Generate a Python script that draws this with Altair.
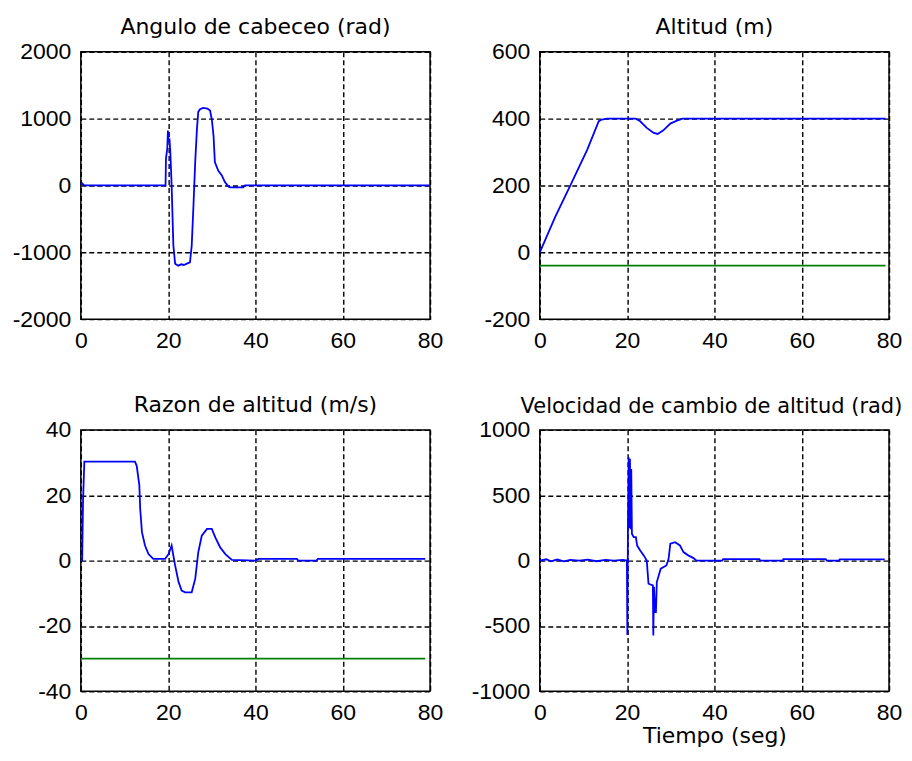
import altair as alt
import pandas as pd

# ---------------- data ----------------
# Panel 1: Angulo de cabeceo (rad)
t_pitch = [0, 0.3, 0.8, 19.4, 19.5, 19.8, 19.95, 20.1, 20.3, 20.5, 20.8, 21.2, 21.6, 22.3, 23.0,
           23.6, 24.3, 25.0, 25.4, 25.8, 26.2, 26.6, 26.9, 27.3, 28.0, 29.0, 29.6, 30.0, 30.4,
           30.7, 31.5, 32.3, 33.0, 33.8, 34.2, 37.2, 37.6, 80]
pitch = [0, 30, 0, 0, 400, 550, 820, 650, 700, 500, 0, -900, -1170, -1200, -1180,
         -1190, -1170, -1150, -900, -300, 350, 850, 1100, 1140, 1160, 1150, 1120, 990, 740,
         350, 220, 150, 50, -15, -30, -30, 0, 0]

# Panel 2: Altitud (m)
t_alt = [0, 3.5, 7.0, 10.9, 13.5, 14.2, 15.4, 21.9, 23.0, 24.5, 26.1, 27.0, 28.3, 29.9,
         31.4, 32.7, 79.2]
alt_m = [0, 105, 200, 308, 392, 397, 400, 400, 392, 372, 357, 354, 365, 385, 394, 400, 400]
t_alt_ref = [0, 79.2]
alt_ref = [-40, -40]

# Panel 3: Razon de altitud (m/s)
t_rate = [0, 0.3, 0.5, 0.8, 12.4, 12.8, 13.4, 13.6, 14.0, 14.7, 15.5, 16.6, 19.3, 20.1,
          20.8, 21.2, 21.6, 22.4, 23.1, 23.9, 25.4, 26.2, 26.9, 27.7, 28.9, 30.0, 30.8,
          31.9, 33.1, 34.6, 40.0, 40.7, 49.5, 49.8, 54.0, 54.3, 78.9]
rate = [0, 0, 18, 30.3, 30.3, 29, 23, 15.8, 8.7, 4.6, 2.0, 0.5, 0.5, 2.0,
        4.6, 1.5, -1.5, -6.6, -9.2, -9.7, -9.7, -5.6, 2.5, 7.6, 9.7, 9.7, 7.1,
        4.1, 2.0, 0.2, 0, 0.5, 0.5, 0, 0, 0.5, 0.5]
t_rate_ref = [0, 78.9]
rate_ref = [-30, -30]

# Panel 4: Velocidad de cambio de altitud (rad)
t_vel = [0, 1.5, 2.5, 4, 5.5, 7, 9, 11, 13, 15, 17, 19, 19.95, 20.05, 20.2, 20.35, 20.5,
         20.65, 20.8, 20.95, 21.1, 21.5, 22.0, 22.3, 23.0, 23.8, 24.5, 24.9, 25.9, 26.0,
         26.15, 26.4, 26.6, 26.8, 27.7, 29.0, 29.5, 29.9, 31.0, 32.1, 32.9, 34.0, 35.2,
         35.9, 41.8, 42.0, 50.3, 50.5, 55.6, 55.8, 65.5, 65.7, 68.5, 68.7, 79]
vel = [0, 10, -5, 8, -6, 5, 0, 8, -5, 6, 0, 5, 0, -570, 300, 790, 250,
       780, 240, 700, 205, 180, 180, 115, 78, 40, 0, -177, -190, -573,
       -200, -394, -394, -164, -62, -37, 14, 129, 141, 116, 65, 40, 19,
       0, 0, 12, 12, 0, 0, 12, 12, 0, 0, 10, 10]

titles = ["Angulo de cabeceo (rad)", "Altitud (m)", "Razon de altitud (m/s)",
          "Velocidad de cambio de altitud (rad)"]
x_ticks = [0, 20, 40, 60, 80]
y_ticks_pitch = [-2000, -1000, 0, 1000, 2000]
y_ticks_alt = [-200, 0, 200, 400, 600]
y_ticks_rate = [-40, -20, 0, 20, 40]
y_ticks_vel = [-1000, -500, 0, 500, 1000]
x_title = "Tiempo (seg)"

TICK_FONT = "Liberation Sans"
TITLE_FONT = "DejaVu Sans"
BLUE = "#0000ff"
GREEN = "#008000"


def axis_kwargs(values):
    return dict(values=values, grid=True, gridColor="#000000", gridDash=[5, 3],
                gridWidth=1.4, gridOpacity=1, ticks=False, domain=False,
                labelFont=TICK_FONT, labelFontSize=23, labelColor="#000000",
                labelPadding=10, labelFlush=False, labelOverlap=False,
                labelExpr="'' + datum.value")


def panel(title, t_vals, y_vals, yticks, height, ref=None, xtitle=None,
          title_size=22, title_dx=0):
    ydom = [yticks[0], yticks[-1]]
    xax = axis_kwargs(x_ticks)
    if xtitle:
        xax.update(title=xtitle, titleFont=TITLE_FONT, titleFontSize=22,
                   titleFontWeight="normal", titleColor="#000000", titlePadding=1)
    else:
        xax.update(title=None)
    yax = axis_kwargs(yticks)
    yax.update(title=None, minExtent=72, maxExtent=72)

    df = pd.DataFrame({"t": t_vals, "v": y_vals})
    base = alt.Chart(df).mark_line(color=BLUE, strokeWidth=1.8, clip=True).encode(
        x=alt.X("t:Q", scale=alt.Scale(domain=[0, 80], nice=False, zero=False),
                axis=alt.Axis(**xax)),
        y=alt.Y("v:Q", scale=alt.Scale(domain=ydom, nice=False, zero=False),
                axis=alt.Axis(**yax)),
    )
    layers = [base]
    if ref is not None:
        dfr = pd.DataFrame({"t": ref[0], "v": ref[1]})
        layers.append(alt.Chart(dfr).mark_line(color=GREEN, strokeWidth=1.6).encode(
            x="t:Q", y="v:Q"))
    return alt.layer(*layers).properties(
        width=350, height=height,
        title=alt.TitleParams(title, font=TITLE_FONT, fontSize=title_size,
                              fontWeight="normal", color="#000000", anchor="middle",
                              baseline="alphabetic", offset=-15, dx=title_dx),
    )


p1 = panel(titles[0], t_pitch, pitch, y_ticks_pitch, 268)
p2 = panel(titles[1], t_alt, alt_m, y_ticks_alt, 268, ref=(t_alt_ref, alt_ref))
p3 = panel(titles[2], t_rate, rate, y_ticks_rate, 262, ref=(t_rate_ref, rate_ref))
p4 = panel(titles[3], t_vel, vel, y_ticks_vel, 262, xtitle=x_title,
           title_size=21, title_dx=-3)

chart = alt.concat(p1, p2, p3, p4, columns=2,
                   spacing={"row": 111, "column": 110}, bounds="flush").properties(
    padding={"left": 0, "top": 6, "right": 0, "bottom": 0},
    background="white",
).configure_view(stroke="#000000", strokeWidth=1.5)

chart.save("out.html", embed_options={"renderer": "svg", "actions": False})
